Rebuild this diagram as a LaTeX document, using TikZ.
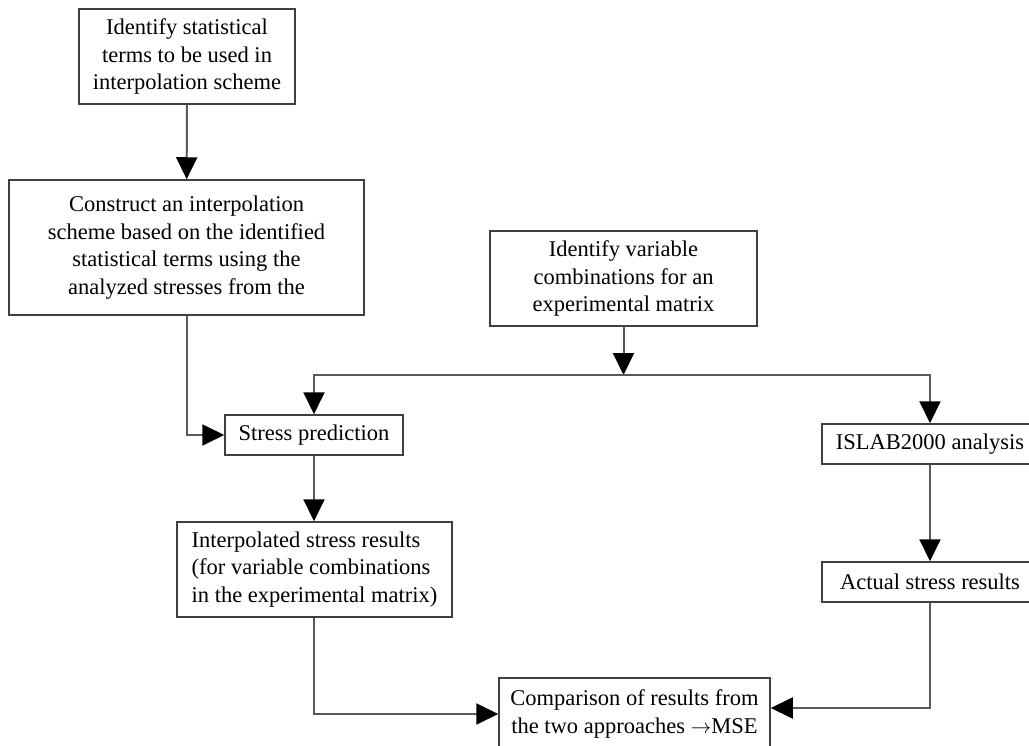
\documentclass[tikz,border=0pt]{standalone}
\usepackage{fontspec}
\setmainfont{Liberation Serif}
\usetikzlibrary{arrows.meta}
\definecolor{boxline}{HTML}{404040}
\definecolor{flowline}{HTML}{5A5A5A}
\begin{document}
\begin{tikzpicture}[x=1pt,y=-1pt,
  every node/.style={font=\fontsize{22.5}{27.5}\selectfont, inner sep=0pt},
  stepbox/.style={draw=boxline, line width=1.5pt, fill=white, rectangle, align=center},
  flow/.style={draw=flowline, line width=2pt, -{Triangle[length=22pt,width=21pt]}, arrows={[color=black]}}
]
\useasboundingbox (0,0) rectangle (1029,746);
\fill[white] (0,0) rectangle (1029,746);

% boxes of the flowchart
\node[stepbox, minimum width=216pt, minimum height=95pt] (terms) at (187,56.5)
  {Identify statistical\\terms to be used in\\interpolation scheme};
\node[stepbox, minimum width=355pt, minimum height=135pt] (scheme) at (186.5,247.5)
  {Construct an interpolation\\scheme based on the identified\\statistical terms using the\\analyzed stresses from the};
\node[stepbox, minimum width=267pt, minimum height=95pt] (combos) at (623.5,278.5)
  {Identify variable\\combinations for an\\experimental matrix};
\node[stepbox, minimum width=178pt, minimum height=40pt] (predict) at (314,435)
  {Stress prediction};
\node[stepbox, minimum width=216pt, minimum height=40pt] (islab) at (930,444)
  {ISLAB2000 analysis};
\node[stepbox, minimum width=275pt, minimum height=95pt, align=left] (interp) at (314.5,569.5)
  {Interpolated stress results\\(for variable combinations\\in the experimental matrix)};
\node[stepbox, minimum width=216pt, minimum height=40pt] (actual) at (930,582)
  {Actual stress results};
\node[stepbox, minimum width=271pt, minimum height=72pt] (compare) at (634.5,714)
  {Comparison of results from\\the two approaches $\rightarrow$MSE};

% connectors
\coordinate (split) at (623.5,375);
\draw[flow] (terms) -- (scheme);
\draw[flow] (scheme.south) |- (predict.west);
\draw[flow] (combos) -- (split);
\draw[flow] (split) -| (predict.north);
\draw[flow] (split) -| (islab.north);
\draw[flow] (predict) -- (predict |- interp.north);
\draw[flow] (islab) -- (actual);
\draw[flow] (predict |- interp.south) |- (compare.west);
\draw[flow] (actual.south) |- ([yshift=6pt]compare.east);
\end{tikzpicture}
\end{document}
